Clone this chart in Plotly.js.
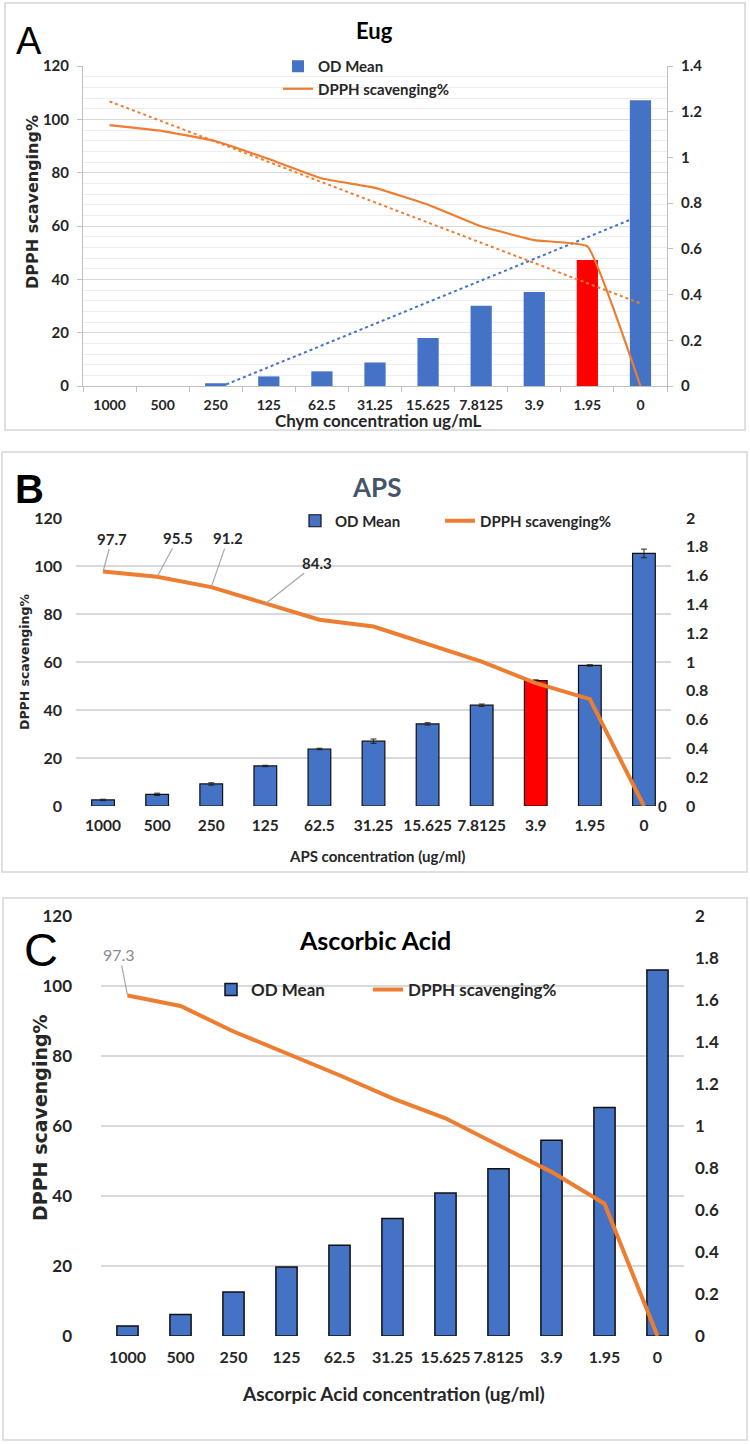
<!DOCTYPE html>
<html>
<head>
<meta charset="utf-8">
<script src="https://cdn.plot.ly/plotly-3.0.1.min.js"></script>
<style>html,body{margin:0;padding:0;background:#fff;}#chart{width:750px;height:1444px;}</style>
</head>
<body>
<div id="chart"></div>
<script>
// ---------- DATA ----------
const categories = ["1000","500","250","125","62.5","31.25","15.625","7.8125","3.9","1.95","0"];

// Panel A (Eug)
const odMeanA = [0, 0, 0.012, 0.042, 0.064, 0.103, 0.21, 0.351, 0.411, 0.551, 1.25];
const dpphA   = [97.8, 95.6, 91.8, 85.1, 77.8, 74.3, 68.0, 59.9, 54.7, 52.4, 0];
const highlightA = "1.95";

// Panel B (APS)
const odMeanB = [0.042, 0.081, 0.153, 0.278, 0.396, 0.45, 0.57, 0.70, 0.871, 0.976, 1.754];
const odErrB  = [0.005, 0.008, 0.008, 0.005, 0.005, 0.015, 0.008, 0.008, 0.005, 0.005, 0.03];
const dpphB   = [97.7, 95.5, 91.2, 84.3, 77.6, 74.8, 67.4, 60.2, 51.2, 44.5, 0];
const highlightB = "3.9";
const labelledB = ["1000","500","250","125","0"];

// Panel C (Ascorbic Acid)
const odMeanC = [0.048, 0.102, 0.21, 0.329, 0.432, 0.559, 0.681, 0.797, 0.932, 1.088, 1.743];
const dpphC   = [97.3, 94.3, 87.0, 80.9, 74.5, 67.9, 62.2, 54.5, 46.9, 37.8, 0];
const labelledC = ["1000"];

const titles = {A: "Eug", B: "APS", C: "Ascorbic Acid"};
const xTitles = {A: "Chym concentration ug/mL", B: "APS concentration (ug/ml)", C: "Ascorpic Acid concentration (ug/ml)"};
const yTitle = "DPPH scavenging%";
const seriesNames = {bar: "OD Mean", line: "DPPH scavenging%"};

// ---------- HELPERS ----------
const W = 750, H = 1444;
const fx = px => px / W;
const fy = py => 1 - py / H;
const BLUE = "#4472C4", ORANGE = "#ED7D31", RED = "#FF0000";
const FONT = "Lato, 'Open Sans', sans-serif";
const YFONT = "'DejaVu Sans', Verdana, sans-serif";
const catIndex = c => categories.indexOf(c);

function linReg(ys) {
  const n = ys.length;
  const xs = ys.map((_, i) => i + 1);
  const mx = xs.reduce((a, b) => a + b, 0) / n;
  const my = ys.reduce((a, b) => a + b, 0) / n;
  let sxy = 0, sxx = 0;
  for (let i = 0; i < n; i++) { sxy += (xs[i] - mx) * (ys[i] - my); sxx += (xs[i] - mx) ** 2; }
  const b = sxy / sxx, a = my - b * mx;
  return xs.map(x => a + b * x);
}

// ---------- TRACES ----------
const traces = [
  // A
  {type: "bar", name: seriesNames.bar, x: categories, y: odMeanA, xaxis: "x", yaxis: "y",
   marker: {color: categories.map(c => c === highlightA ? RED : BLUE)}, width: 0.4, legend: "legend"},
  {type: "scatter", mode: "lines", x: categories, y: linReg(odMeanA), xaxis: "x", yaxis: "y",
   line: {color: BLUE, width: 2, dash: "dot"}, showlegend: false, hoverinfo: "skip"},
  {type: "scatter", mode: "lines", name: seriesNames.line, x: categories, y: dpphA, xaxis: "x", yaxis: "y2",
   line: {color: ORANGE, width: 2.2, shape: "spline", smoothing: 0.3}, legend: "legend"},
  {type: "scatter", mode: "lines", x: categories, y: linReg(dpphA), xaxis: "x", yaxis: "y2",
   line: {color: ORANGE, width: 2, dash: "dot"}, showlegend: false, hoverinfo: "skip"},
  // B
  {type: "bar", name: seriesNames.bar, x: categories, y: odMeanB, xaxis: "x2", yaxis: "y3",
   marker: {color: categories.map(c => c === highlightB ? RED : BLUE), line: {color: "#111", width: 1.2}},
   error_y: {type: "data", array: odErrB, visible: true, color: "#222", thickness: 1, width: 3},
   width: 0.42, legend: "legend2"},
  {type: "scatter", mode: "lines", name: seriesNames.line, x: categories, y: dpphB, xaxis: "x2", yaxis: "y4",
   line: {color: ORANGE, width: 4}, legend: "legend3"},
  // C
  {type: "bar", name: seriesNames.bar, x: categories, y: odMeanC, xaxis: "x3", yaxis: "y5",
   marker: {color: BLUE, line: {color: "#111", width: 1.5}}, width: 0.4, legend: "legend4"},
  {type: "scatter", mode: "lines", name: seriesNames.line, x: categories, y: dpphC, xaxis: "x3", yaxis: "y6",
   line: {color: ORANGE, width: 4}, legend: "legend5"}
];

// ---------- LAYOUT ----------
const P = {
  A: {l: 83, r: 667, t: 66, b: 386},
  B: {l: 76, r: 671, t: 518, b: 806},
  C: {l: 101, r: 684, t: 916, b: 1336}
};
const dx = p => [fx(p.l), fx(p.r)];
const dy = p => [fy(p.b), fy(p.t)];
const catRange = [-0.5, categories.length - 0.5];

function catAxis(p, anchor, extra) {
  return Object.assign({type: "category", domain: dx(p), anchor: anchor, showgrid: false, zeroline: false,
    categoryorder: "array", categoryarray: categories, range: catRange, autorange: false,
    tickangle: 0, fixedrange: true}, extra);
}
const tf = (size, weight) => ({family: FONT, size: size, color: "#262626", weight: weight || "bold"});
function legendAt(x, y, size, orient) {
  return {x: fx(x), y: fy(y), xanchor: "left", yanchor: orient === "v" ? "top" : "middle", orientation: orient || "h",
    bgcolor: "rgba(0,0,0,0)", borderwidth: 0, itemclick: false, tracegroupgap: 0,
    font: {family: FONT, size: size, color: "#262626", weight: "bold"}};
}

const layout = {
  width: W, height: H, margin: {l: 0, r: 0, t: 0, b: 0},
  paper_bgcolor: "#fff", plot_bgcolor: "rgba(0,0,0,0)",
  showlegend: true,
  // Panel A
  xaxis: catAxis(P.A, "y", {showline: true, linecolor: "#bfbfbf", linewidth: 1, ticks: "outside",
    tickson: "boundaries", ticklen: 5, tickcolor: "#bfbfbf", tickfont: tf(14), ticklabelstandoff: 6}),
  yaxis: {domain: dy(P.A), side: "right", range: [0, 1.4], dtick: 0.2, showgrid: false, zeroline: false,
    showline: true, linecolor: "#bfbfbf", ticks: "outside", ticklen: 5, tickcolor: "#bfbfbf",
    tickfont: tf(15), ticklabelstandoff: 5, fixedrange: true},
  yaxis2: {domain: dy(P.A), overlaying: "y", side: "left", range: [0, 120], dtick: 20, showgrid: true,
    gridcolor: "#d9d9d9", gridwidth: 1, minor: {dtick: 4, showgrid: true, gridcolor: "#ededed", gridwidth: 1},
    zeroline: false, showline: true, linecolor: "#bfbfbf", ticks: "outside", ticklen: 5, tickcolor: "#bfbfbf",
    tickfont: tf(15), ticklabelstandoff: 5, fixedrange: true},
  // Panel B
  xaxis2: catAxis(P.B, "y3", {showline: false, ticks: "", tickfont: tf(15.5), ticklabelstandoff: 8}),
  yaxis3: {domain: dy(P.B), side: "right", anchor: "x2", range: [0, 2], dtick: 0.2, showgrid: false, zeroline: false,
    showline: false, ticks: "", tickfont: tf(16), ticklabelstandoff: 14, fixedrange: true},
  yaxis4: {domain: dy(P.B), overlaying: "y3", side: "left", range: [0, 120], dtick: 20, showgrid: true,
    gridcolor: "#d9d9d9", gridwidth: 1.5, zeroline: false, showline: false, ticks: "",
    tickfont: tf(16), ticklabelstandoff: 20, fixedrange: true},
  // Panel C
  xaxis3: catAxis(P.C, "y5", {showline: false, ticks: "", tickfont: tf(16), ticklabelstandoff: 10}),
  yaxis5: {domain: dy(P.C), side: "right", anchor: "x3", range: [0, 2], dtick: 0.2, showgrid: false, zeroline: false,
    showline: false, ticks: "", tickfont: tf(17), ticklabelstandoff: 10, fixedrange: true},
  yaxis6: {domain: dy(P.C), overlaying: "y5", side: "left", range: [0, 120], dtick: 20, showgrid: true,
    gridcolor: "#d9d9d9", gridwidth: 1.5, zeroline: false, showline: false, ticks: "",
    tickfont: tf(17), ticklabelstandoff: 10, fixedrange: true},
  legend: legendAt(278, 50, 15, "v"),
  legend2: legendAt(295, 521, 15),
  legend3: legendAt(440, 521, 15),
  legend4: legendAt(211, 990, 17),
  legend5: legendAt(368, 990, 17),
  shapes: [
    {type: "rect", xref: "paper", yref: "paper", x0: fx(5), x1: fx(745), y0: fy(430), y1: fy(3), line: {color: "#d6d6d6", width: 1.5}},
    {type: "rect", xref: "paper", yref: "paper", x0: fx(2), x1: fx(747), y0: fy(872), y1: fy(452), line: {color: "#d6d6d6", width: 1.5}},
    {type: "rect", xref: "paper", yref: "paper", x0: fx(3), x1: fx(747), y0: fy(1440), y1: fy(898), line: {color: "#d6d6d6", width: 1.5}}
  ],
  annotations: []
};

const ann = layout.annotations;
function paperText(text, x, y, font, extra) {
  ann.push(Object.assign({xref: "paper", yref: "paper", x: fx(x), y: fy(y), text: text, showarrow: false,
    xanchor: "center", yanchor: "middle", font: font}, extra || {}));
}
// panel letters
paperText("A", 29, 41, {family: "'Liberation Sans', Arial, sans-serif", size: 38, color: "#000"});
paperText("B", 29, 489, {family: "'Liberation Sans', Arial, sans-serif", size: 40, color: "#000", weight: "bold"});
paperText("C", 41, 949, {family: "'Liberation Sans', Arial, sans-serif", size: 47, color: "#000"});
// chart titles
paperText(titles.A, 374, 31, {family: FONT, size: 22, color: "#000", weight: "bold"});
paperText(titles.B, 376, 487, {family: FONT, size: 26, color: "#44546A", weight: "bold"});
paperText(titles.C, 375, 940, {family: FONT, size: 25, color: "#000", weight: "bold"});
// x titles
paperText(xTitles.A, 378, 420, {family: FONT, size: 17, color: "#262626", weight: "bold"});
paperText(xTitles.B, 377, 856, {family: FONT, size: 15, color: "#262626", weight: "bold"});
paperText(xTitles.C, 393, 1393, {family: FONT, size: 19, color: "#262626", weight: "bold"});
// y titles
paperText(yTitle, 32, 202, {family: YFONT, size: 16, color: "#262626", weight: "bold"}, {textangle: -90});
paperText(yTitle, 25, 662, {family: YFONT, size: 12.5, color: "#262626", weight: "bold"}, {textangle: -90});
paperText(yTitle, 40, 1118, {family: YFONT, size: 19, color: "#262626", weight: "bold"}, {textangle: -90});

// data labels B (category index positions on the category axis)
const offB = {"1000": [9, -33], "500": [21, -39], "250": [17, -49], "125": [52, -41]};
labelledB.forEach(c => {
  const i = catIndex(c);
  const v = dpphB[i];
  const base = {xref: "x2", yref: "y4", x: i, y: v, text: String(v),
    font: {family: FONT, size: 15, color: "#262626", weight: "bold"}};
  if (offB[c]) {
    ann.push(Object.assign(base, {showarrow: true, arrowhead: 0, arrowwidth: 1.2, arrowcolor: "#a6a6a6",
      ax: offB[c][0], ay: offB[c][1], standoff: 0}));
  } else {
    ann.push(Object.assign(base, {showarrow: false, xshift: 19}));
  }
});
// data labels C
labelledC.forEach(c => {
  const i = catIndex(c);
  ann.push({xref: "x3", yref: "y6", x: i, y: dpphC[i], text: String(dpphC[i]), showarrow: true, arrowhead: 0,
    arrowwidth: 1.2, arrowcolor: "#a6a6a6", ax: -8, ay: -41, standoff: 0,
    font: {family: FONT, size: 16, color: "#8c8c8c"}});
});

Plotly.newPlot("chart", traces, layout, {staticPlot: true, displayModeBar: false});
</script>
</body>
</html>
